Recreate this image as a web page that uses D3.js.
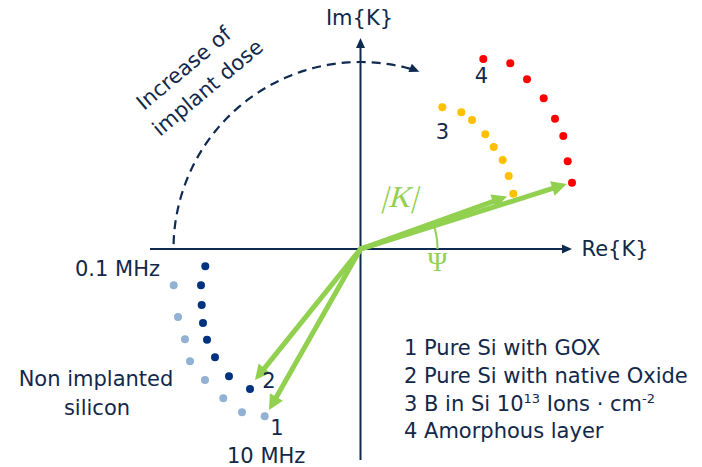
<!DOCTYPE html>
<html>
<head>
<meta charset="utf-8">
<script src="https://cdn.jsdelivr.net/npm/d3@7"></script>
<style>
  html, body { margin: 0; padding: 0; background: #ffffff; }
  svg { display: block; }
  text { font-family: "DejaVu Sans", Verdana, sans-serif; fill: #12284a; }
  text.serif { font-family: "Liberation Serif", "Times New Roman", serif; fill: #92d050; }
</style>
</head>
<body>
<svg id="chart" width="702" height="467"></svg>
<script>
// Complex permittivity K plotted in the Re/Im plane (arbitrary units)
const seriesNames = ["1 Pure Si with GOX", "2 Pure Si with native Oxide", "3 B in Si 10^13 Ions · cm^-2", "4 Amorphous layer"];

// 1: pure Si with gate oxide (light blue), 0.1 MHz -> 10 MHz
const s1Re = [-1.868, -1.825, -1.755, -1.705, -1.555, -1.372, -1.185, -0.958];
const s1Im = [-0.363, -0.680, -0.903, -1.123, -1.310, -1.493, -1.633, -1.673];
// 2: pure Si with native oxide (dark blue)
const s2Re = [-1.552, -1.595, -1.588, -1.575, -1.535, -1.455, -1.315, -1.105];
const s2Im = [-0.173, -0.363, -0.560, -0.740, -0.907, -1.083, -1.273, -1.400];
// 3: boron implanted Si (amber)
const s3Re = [0.818, 1.008, 1.115, 1.248, 1.332, 1.422, 1.482, 1.528];
const s3Im = [1.417, 1.367, 1.290, 1.147, 1.020, 0.890, 0.730, 0.553];
// 4: amorphous layer (red)
const s4Re = [1.228, 1.498, 1.665, 1.832, 1.945, 2.028, 2.072, 2.115];
const s4Im = [1.900, 1.857, 1.697, 1.507, 1.303, 1.130, 0.877, 0.663];

// |K| vectors drawn from the origin
const vecRe = [-0.915, -1.055, 1.465, 2.062];
const vecIm = [-1.610, -1.310, 0.525, 0.650];

const seriesColors = ["#92b2d3", "#00337f", "#ffc000", "#ff0000"];
const green = "#92d050";
const navy = "#0e2a50";
const FS = 21;

const svg = d3.select("#chart");
const x = d3.scaleLinear().domain([-2.1, 2.2]).range([150.5, 580.5]);
const y = d3.scaleLinear().domain([-2.1, 2.1]).range([459, 39]);
const ox = x(0), oy = y(0);

// Arrowhead polygon helper: tip at (tx,ty), pointing along angle a
function head(tx, ty, a, len, half) {
  const bx = tx - len * Math.cos(a), by = ty - len * Math.sin(a);
  const px = -Math.sin(a) * half, py = Math.cos(a) * half;
  return [[tx, ty], [bx + px, by + py], [bx - px, by - py]];
}
const poly = d3.line();

// Axes
const axes = svg.append("g");
axes.append("line").attr("x1", x(-2.105)).attr("y1", oy).attr("x2", x(2.03)).attr("y2", oy)
  .attr("stroke", navy).attr("stroke-width", 2);
axes.append("path").attr("d", poly(head(x(2.115), oy, 0, 10, 4.5)) + "Z").attr("fill", navy);
axes.append("line").attr("x1", ox).attr("y1", y(-2.11)).attr("x2", ox).attr("y2", y(2.02))
  .attr("stroke", navy).attr("stroke-width", 2);
axes.append("path").attr("d", poly(head(ox, y(2.11), -Math.PI / 2, 10, 4.5)) + "Z").attr("fill", navy);

axes.append("text").attr("x", x(2.21)).attr("y", oy + 7).attr("font-size", FS).text("Re{K}");
axes.append("text").attr("x", ox - 1).attr("y", 25).attr("font-size", FS).attr("text-anchor", "middle").text("Im{K}");

// Dashed arc showing increasing implant dose
const R = x(1.87) - ox;
const a0 = Math.PI * 178.5 / 180, a1 = Math.PI * 74 / 180;
const arcPts = d3.range(0, 1.0001, 0.01).map(t => {
  const a = a0 + (a1 - a0) * t;
  return [ox + R * Math.cos(a), oy - R * Math.sin(a)];
});
svg.append("path").attr("d", d3.line()(arcPts)).attr("fill", "none")
  .attr("stroke", navy).attr("stroke-width", 2.2).attr("stroke-dasharray", "9,6");
{
  const aT = Math.PI * 72.3 / 180;
  const tx = ox + R * Math.cos(aT), ty = oy - R * Math.sin(aT);
  const dir = Math.atan2(Math.cos(aT), Math.sin(aT)); // clockwise tangent in screen space
  svg.append("path").attr("d", poly(head(tx + 2, ty + 0.8, dir + 0.08, 10, 4.5)) + "Z").attr("fill", navy);
}
const doseLabel = svg.append("g").attr("font-size", FS);
[["Increase of", 144, 111], ["implant dose", 160, 137]].forEach(([t, sx, sy]) => {
  doseLabel.append("text").attr("transform", `translate(${sx},${sy}) rotate(-40)`).text(t);
});

// Green |K| vectors
const vecG = svg.append("g");
vecRe.forEach((re, i) => {
  const tx = x(re), ty = y(vecIm[i]);
  const a = Math.atan2(ty - oy, tx - ox);
  const len = 15;
  vecG.append("line").attr("x1", ox).attr("y1", oy)
    .attr("x2", tx - (len - 2) * Math.cos(a)).attr("y2", ty - (len - 2) * Math.sin(a))
    .attr("stroke", green).attr("stroke-width", 5).attr("stroke-linecap", "round");
  vecG.append("path").attr("d", poly(head(tx, ty, a, len, 7.5)) + "Z").attr("fill", green);
});

// Phase angle arc
{
  const r = 77;
  const aEnd = Math.atan2(vecIm[3], vecRe[3]) - 0.02;
  const pts = d3.range(0, 1.0001, 0.05).map(t => {
    const a = aEnd * t;
    return [ox + r * Math.cos(a), oy - r * Math.sin(a)];
  });
  svg.append("path").attr("d", d3.line()(pts)).attr("fill", "none").attr("stroke", green).attr("stroke-width", 2);
}
// Slanted modulus symbol: upright serif glyphs sheared so the bars lean too
svg.append("text").attr("class", "serif").attr("transform", "translate(381,207) skewX(-16)")
  .attr("font-size", 30).attr("letter-spacing", 1).text("|K|");
svg.append("text").attr("class", "serif").attr("x", 437.5).attr("y", 271).attr("font-size", 27)
  .attr("text-anchor", "middle").text("Ψ");

// Measurement points
const series = [[s1Re, s1Im], [s2Re, s2Im], [s3Re, s3Im], [s4Re, s4Im]];
series.forEach(([re, im], i) => {
  svg.append("g").selectAll("circle").data(re.map((v, j) => [v, im[j]])).join("circle")
    .attr("cx", d => x(d[0])).attr("cy", d => y(d[1])).attr("r", 4).attr("fill", seriesColors[i]);
});

// Curve numbers and frequency labels
const lab = svg.append("g").attr("font-size", FS);
lab.append("text").attr("x", 269).attr("y", 388).attr("text-anchor", "middle").text("2");
lab.append("text").attr("x", 277).attr("y", 435).attr("text-anchor", "middle").text("1");
lab.append("text").attr("x", 442.5).attr("y", 139).attr("text-anchor", "middle").text("3");
lab.append("text").attr("x", 481.5).attr("y", 82.5).attr("text-anchor", "middle").text("4");
lab.append("text").attr("x", 75).attr("y", 276).text("0.1 MHz");
lab.append("text").attr("x", 227).attr("y", 463).text("10 MHz");
lab.append("text").attr("x", 96).attr("y", 386).attr("text-anchor", "middle").text("Non implanted");
lab.append("text").attr("x", 97).attr("y", 415).attr("text-anchor", "middle").text("silicon");

// Legend (exponents written after "^" become superscripts)
const leg = svg.append("g").attr("font-size", FS);
const legY = [355, 383, 410.5, 438];
seriesNames.forEach((name, i) => {
  const t = leg.append("text").attr("x", 404).attr("y", legY[i]);
  const parts = name.split(/\^(\S+)/);
  let raised = false;
  parts.forEach((p, k) => {
    if (k % 2 === 1) {
      t.append("tspan").attr("font-size", 13).attr("dy", -8).text(p);
      raised = true;
    } else if (p.length) {
      const sp = t.append("tspan").text(p);
      if (raised) { sp.attr("dy", 8); raised = false; }
    }
  });
});
</script>
</body>
</html>
